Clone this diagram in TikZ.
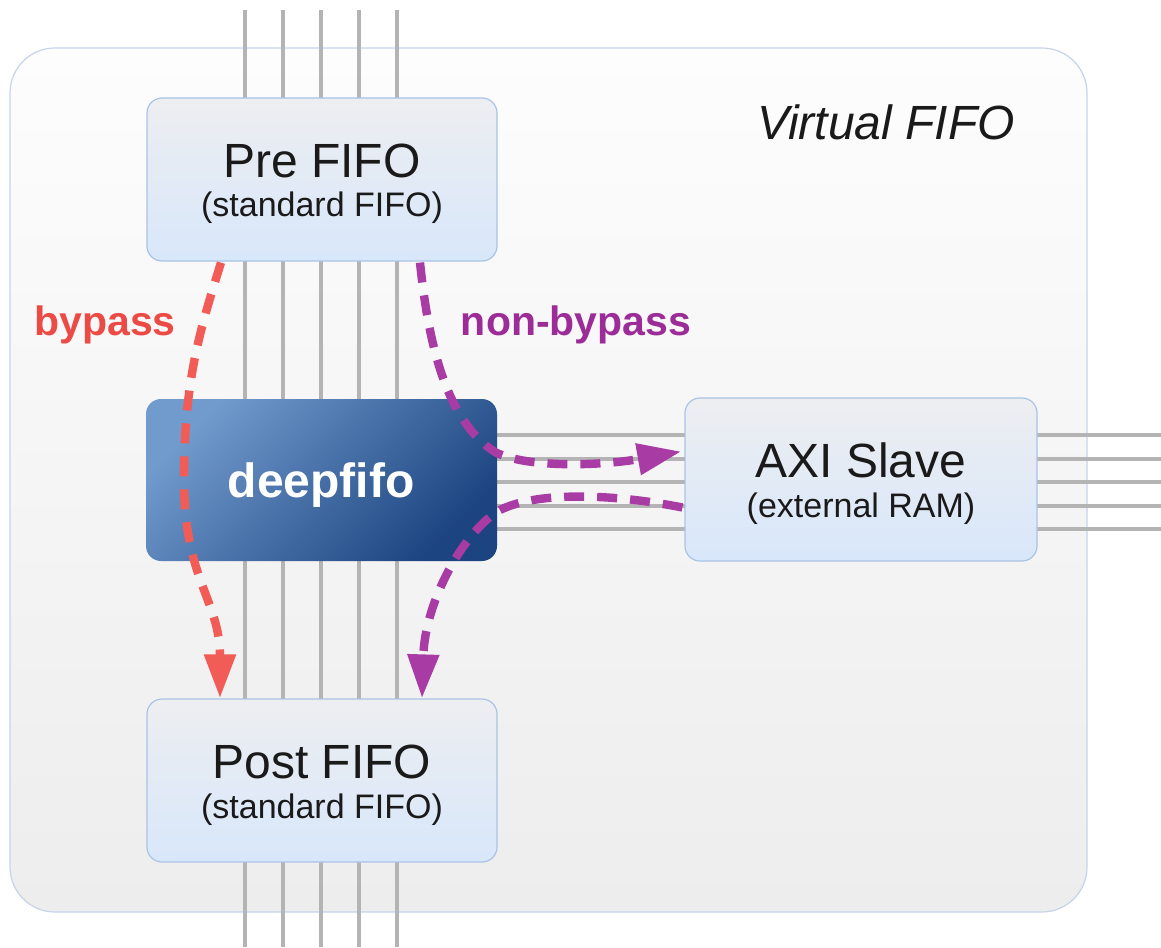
\documentclass[tikz,border=0pt]{standalone}
\usepackage{fontspec}
\setmainfont{Liberation Sans}
\usetikzlibrary{arrows.meta,calc}

\definecolor{framefill1}{HTML}{FDFDFD}
\definecolor{framefill2}{HTML}{EDEDED}
\definecolor{frameedge}{HTML}{C8D3EA}
\definecolor{busgray}{HTML}{B4B4B4}
\definecolor{boxtop}{HTML}{EDEEF1}
\definecolor{boxbot}{HTML}{D8E7FA}
\definecolor{boxedge}{HTML}{A9C3E6}
\definecolor{deeplight}{HTML}{719ACD}
\definecolor{deepdark}{HTML}{1C4480}
\definecolor{inkc}{HTML}{1A1A1A}
\definecolor{bypassc}{HTML}{F25C57}
\definecolor{bypasstxt}{HTML}{EC4A45}
\definecolor{nonbypassc}{HTML}{A83CA4}
\definecolor{nonbypasstxt}{HTML}{9C2C97}

\tikzset{
  frame/.style={rectangle, rounded corners=22.5pt, draw=frameedge, line width=0.6pt,
    top color=framefill1, bottom color=framefill2, inner sep=0pt},
  bus/.style={draw=busgray, line width=1.6pt},
  block/.style={rectangle, rounded corners=7.5pt, draw=boxedge, line width=0.6pt,
    top color=boxtop, bottom color=boxbot, inner sep=0pt},
  deepblock/.style={rectangle, rounded corners=7.5pt, draw=none,
    top color=deeplight, bottom color=deepdark, shading angle=45, inner sep=0pt},
  title/.style={anchor=base, inner sep=0pt, text=inkc, font=\fontsize{24}{28}\selectfont},
  subtitle/.style={anchor=base, inner sep=0pt, text=inkc, font=\fontsize{17}{20}\selectfont},
  pathlbl/.style={anchor=base, inner sep=0pt, font=\bfseries\fontsize{20.5}{24}\selectfont},
  flow/.style={line width=4.2pt, dash pattern=on 10pt off 6.5pt,
    -{Triangle[length=22pt,width=15pt]}},
}

\begin{document}
\begin{tikzpicture}[x=0.5pt,y=-0.5pt]
\useasboundingbox (0,0) rectangle (1161,947);

% enclosing Virtual FIFO frame
\node[frame, minimum width=538.5pt, minimum height=432pt] (vfifo) at (548.5,480) {};
\node[anchor=base, inner sep=0pt, text=inkc, font=\itshape\fontsize{24}{28}\selectfont]
  (vfifo-t) at (886,140) {Virtual FIFO};

% data buses
\foreach \x in {245,283,321,359,397}
  \draw[bus] (\x,10) -- (\x,947);
\foreach \y in {435,459,482,506,529}
  \draw[bus] (497,\y) -- (1161,\y);

% blocks
\node[block, minimum width=175pt, minimum height=81.5pt] (pre) at (322,179.5) {};
\node[title] (pre-t) at (322,177) {Pre FIFO};
\node[subtitle] (pre-s) at (322,216) {(standard FIFO)};

\node[deepblock, minimum width=175.5pt, minimum height=81pt] (deep) at (321.5,480) {};
\node[anchor=base, inner sep=0pt, text=white, font=\bfseries\fontsize{24}{28}\selectfont]
  (deep-t) at (321,497) {deepfifo};

\node[block, minimum width=176pt, minimum height=81.5pt] (axi) at (861,479.5) {};
\node[title] (axi-t) at (861,477) {AXI Slave};
\node[subtitle] (axi-s) at (861,517) {(external RAM)};

\node[block, minimum width=175pt, minimum height=81.5pt] (post) at (322,780.5) {};
\node[title] (post-t) at (322,778) {Post FIFO};
\node[subtitle] (post-s) at (322,818) {(standard FIFO)};

% bypass path
\draw[flow, bypassc] ($(pre.south)+(-101,1)$)
  .. controls (200,330) and (184,380) .. (184,480)
  .. controls (184,580) and (220,600) .. ($(post.north)+(-102,0)$);

% non-bypass path: into external RAM and back out
\draw[flow, nonbypassc] ($(pre.south)+(98,1)$)
  .. controls (428,340) and (445,420) .. (495,452)
  .. controls (525,468) and (600,466) .. ($(axi.west)+(-3,-28)$);
\draw[flow, nonbypassc] ($(axi.west)+(-2,28)$)
  .. controls (620,495) and (540,490) .. (500,510)
  .. controls (465,530) and (425,600) .. ($(post.north)+(100,0)$);

% path labels
\node[pathlbl, text=bypasstxt] (lbl-bypass) at (105,335) {bypass};
\node[pathlbl, text=nonbypasstxt] (lbl-nonbypass) at (576,335) {non-bypass};
\end{tikzpicture}
\end{document}
